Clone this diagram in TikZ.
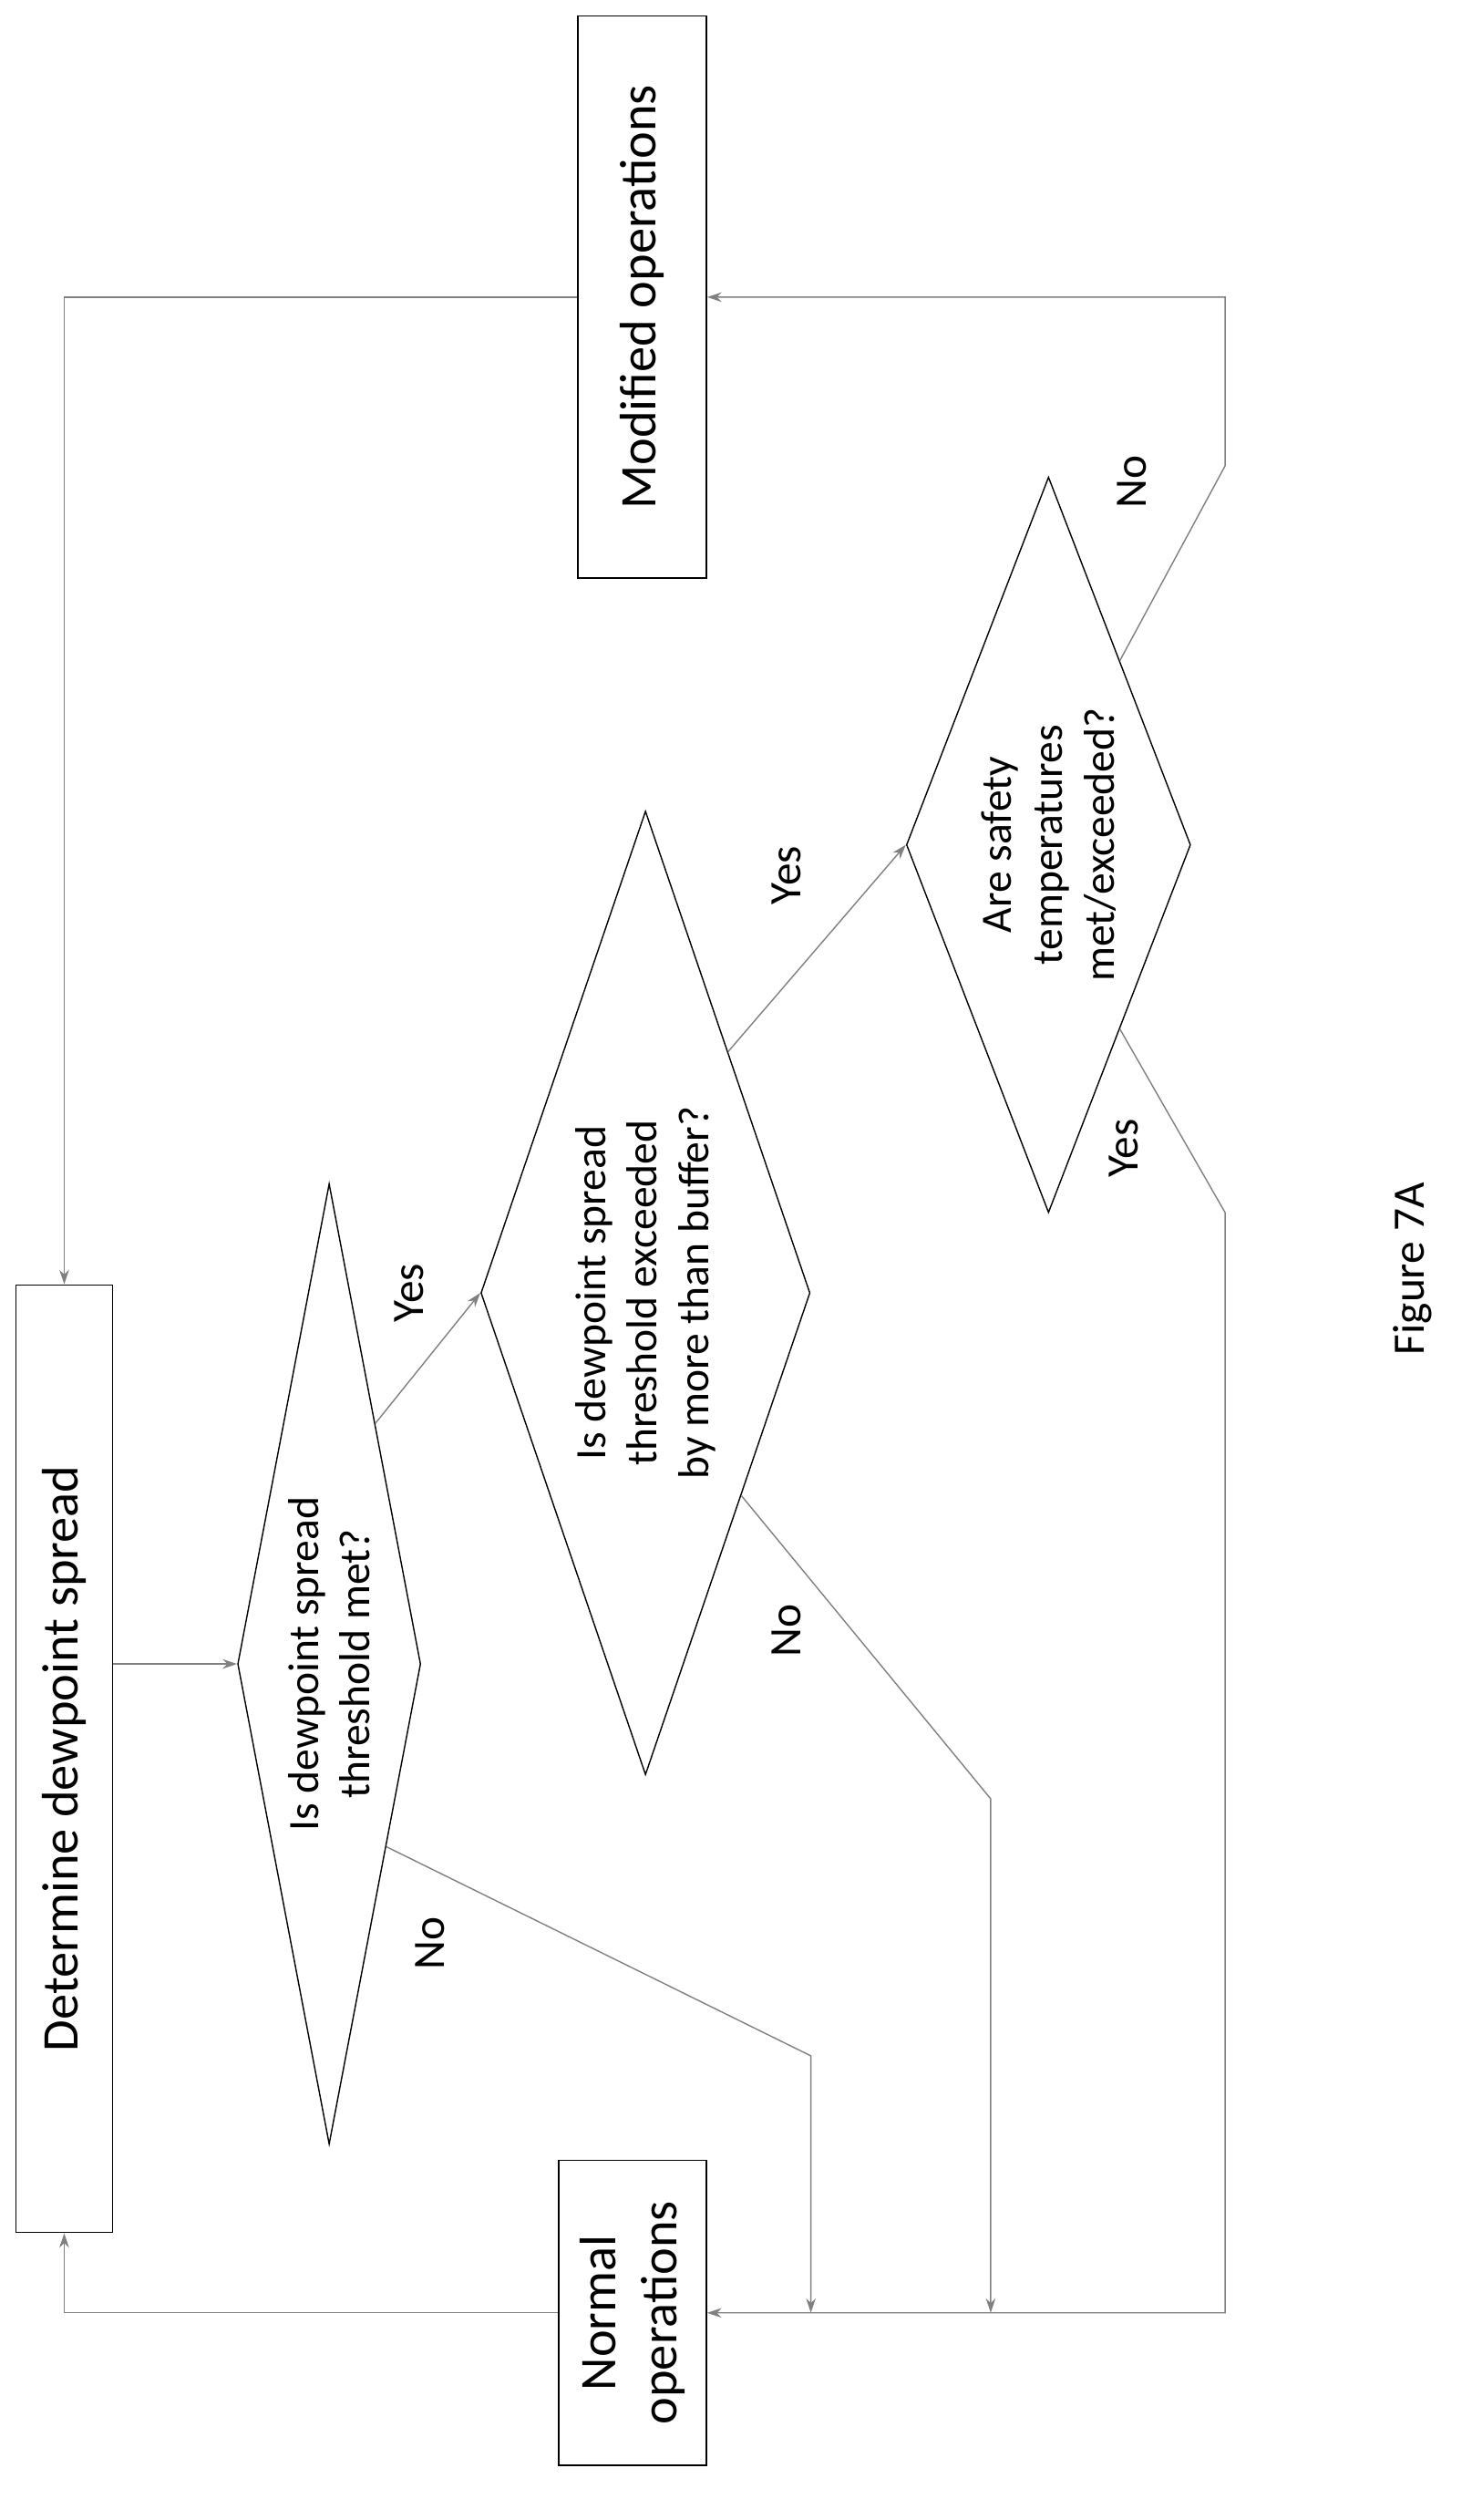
\documentclass[tikz,border=0pt]{standalone}
\usepackage{fontspec}
\setmainfont{Carlito}
\usetikzlibrary{shapes.geometric,arrows.meta,calc}
\begin{document}
\begin{tikzpicture}[x=1pt,y=-1pt,
  box/.style={draw,thick,rotate=90,font=\fontsize{32}{38}\selectfont,align=center,inner sep=0},
  dia/.style={draw,thick,shape=diamond,inner sep=0},
  dtext/.style={rotate=90,align=center,font=\fontsize{27}{32}\selectfont},
  lab/.style={rotate=90,font=\fontsize{28}{32}\selectfont},
  conn/.style={draw=gray,line width=0.8pt,-{Stealth[length=9pt,width=6pt]}},
  seg/.style={draw=gray,line width=0.8pt}]
\useasboundingbox (0,0) rectangle (910,1569);
\node[box,minimum width=590,minimum height=60] (det) at (40,1095) {Determine dewpoint spread};
\node[box,minimum width=190,minimum height=92] (norm) at (394,1440) {Normal\\operations};
\node[box,minimum width=350,minimum height=80] (mod) at (400,185) {Modified operations};
\node[dia,minimum width=114,minimum height=598] (d1) at (205,1036) {};
\node[dtext] at (205,1036) {Is dewpoint spread\\threshold met?};
\node[dia,minimum width=205,minimum height=600] (d2) at (402,805) {};
\node[dtext] at (402,805) {Is dewpoint spread\\threshold exceeded\\by more than buffer?};
\node[dia,minimum width=177,minimum height=458] (d3) at (653,526) {};
\node[dtext] at (653,526) {Are safety\\temperatures\\met/exceeded?};
\node[lab] (fig) at (880,790) {Figure 7A};
\node[lab] (y1) at (255,805) {Yes};
\node[lab] (n1) at (268,1210) {No};
\node[lab] (y2) at (490,545) {Yes};
\node[lab] (n2) at (490,1015) {No};
\node[lab] (n3) at (705,300) {No};
\node[lab] (y3) at (700,715) {Yes};
\coordinate (a1) at (505,1280);
\coordinate (a1e) at (505,1440);
\coordinate (a2) at (617,1120);
\coordinate (a2e) at (617,1440);
\coordinate (b1) at (763,290);
\coordinate (b2) at (763,755);
\path[conn] (det.south |- d1.west) -- (d1.west);
\path[conn] (d1.north east) -- (d2.west);
\path[conn] ($(d1.east)!0.38!(d1.south)$) -- (a1) -- (a1e);
\path[conn] (d2.north east) -- (d3.west);
\path[conn] ($(d2.east)!0.42!(d2.south)$) -- (a2) -- (a2e);
\path[conn] (d3.north east) -- (b1) |- (mod.south);
\path[conn] (d3.south east) -- (b2) |- (norm.south);
\path[conn] (norm.north) -| (det.west);
\path[conn] (mod.north) -| (det.east);
\end{tikzpicture}
\end{document}
